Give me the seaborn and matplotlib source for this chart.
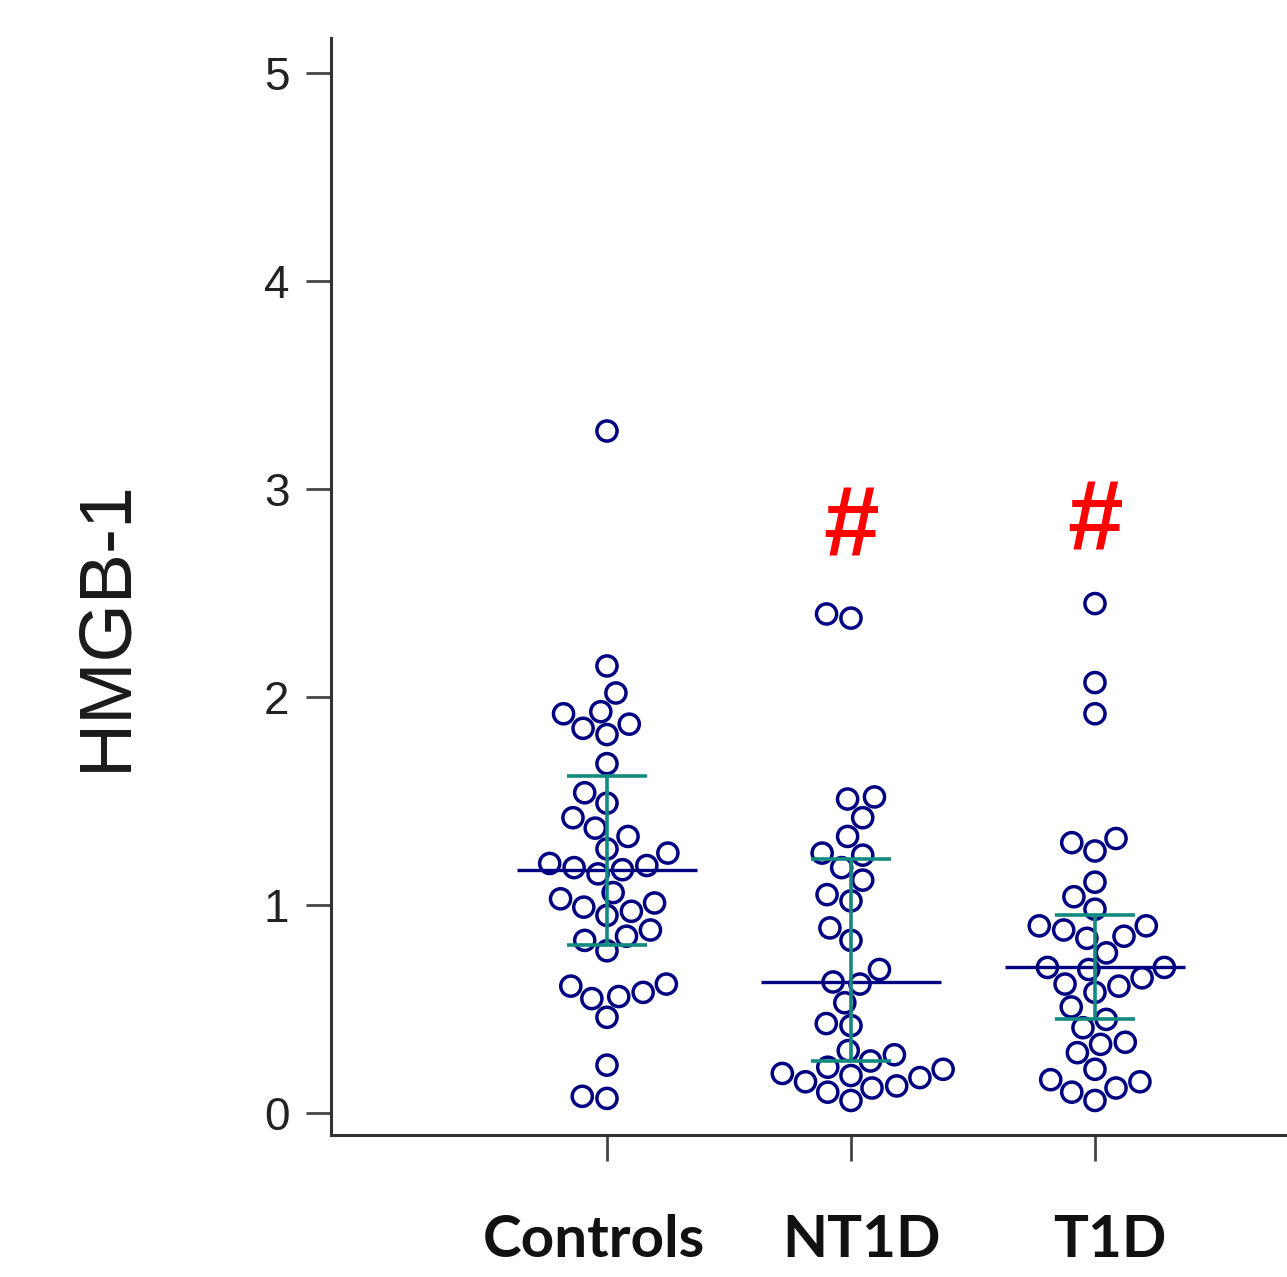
import numpy as np
import pandas as pd
import matplotlib
matplotlib.use("Agg")
import matplotlib.pyplot as plt
import matplotlib.transforms as mtransforms
import seaborn as sns

groups = ["Controls", "NT1D", "T1D"]

controls = [3.28, 2.15, 2.02, 1.93, 1.92, 1.87, 1.85, 1.82, 1.68, 1.54,
            1.49, 1.42, 1.37, 1.33, 1.27, 1.25, 1.20, 1.19, 1.18, 1.17,
            1.15, 1.06, 1.03, 1.01, 0.99, 0.97, 0.95, 0.88, 0.85, 0.83,
            0.78, 0.62, 0.61, 0.58, 0.56, 0.55, 0.46, 0.23, 0.08, 0.07]
nt1d = [2.40, 2.38, 1.52, 1.51, 1.42, 1.33, 1.25, 1.24, 1.18, 1.12,
        1.05, 1.02, 0.89, 0.83, 0.69, 0.63, 0.62, 0.53, 0.43, 0.42,
        0.30, 0.28, 0.25, 0.22, 0.21, 0.19, 0.18, 0.17, 0.15, 0.13,
        0.12, 0.10, 0.06]
t1d = [2.45, 2.07, 1.92, 1.32, 1.30, 1.26, 1.11, 1.04, 0.98, 0.90,
       0.90, 0.88, 0.85, 0.84, 0.77, 0.70, 0.70, 0.69, 0.65, 0.62,
       0.61, 0.58, 0.51, 0.45, 0.41, 0.34, 0.33, 0.29, 0.21, 0.16,
       0.15, 0.12, 0.10, 0.06]

medians = [1.17, 0.63, 0.70]
q1 = [0.81, 0.25, 0.45]
q3 = [1.62, 1.22, 0.95]

sig_groups = ["NT1D", "T1D"]
sig_y = [2.80, 2.83]

df = pd.DataFrame({
    "group": ["Controls"] * len(controls) + ["NT1D"] * len(nt1d) + ["T1D"] * len(t1d),
    "value": controls + nt1d + t1d,
})

sns.set_style("ticks")
plt.rcParams["font.family"] = ["Liberation Sans", "DejaVu Sans"]

fig = plt.figure(figsize=(12.87, 12.77), dpi=100)
ax = fig.add_axes([0.2572, 0.1112, 0.7428, 0.8590])

navy = "#000080"
teal = "#118a80"

sns.swarmplot(data=df, x="group", y="value", order=groups, size=14.5,
              color=navy, ax=ax, zorder=2, warn_thresh=1)
for coll in ax.collections:
    coll.set_facecolor("none")
    coll.set_edgecolor(navy)
    coll.set_linewidth(2.5)

xs = np.arange(len(groups))
ax.hlines(medians, xs - 0.37, xs + 0.37, color=navy, lw=2.4, zorder=3)
ax.hlines(q1, xs - 0.165, xs + 0.165, color=teal, lw=2.6, zorder=4)
ax.hlines(q3, xs - 0.165, xs + 0.165, color=teal, lw=2.6, zorder=4)
ax.vlines(xs, q1, q3, color=teal, lw=2.6, zorder=4)

for g, y in zip(sig_groups, sig_y):
    ax.text(groups.index(g), y, "#", color="#ff0000", fontsize=72,
            fontweight="bold", ha="center", va="center")

ax.set_xlim(-1.131, 2.787)
ax.set_ylim(-0.106, 5.17)
ax.set_yticks([0, 1, 2, 3, 4, 5])
ax.set_yticklabels(["0", "1", "2", "3", "4", "5"], fontsize=33, color="#222222")
ax.set_xticks(xs)
ax.set_xticklabels(groups, fontsize=42, fontweight="bold", family="Lato",
                   color="#111111")
ax.tick_params(axis="y", length=18, width=2, color="#444444", pad=12)
ax.tick_params(axis="x", length=19, width=2, color="#444444", pad=38)

# the group labels sit a little off their ticks in the original
for lab, dx in zip(ax.get_xticklabels(), [-0.13, 0.11, 0.15]):
    lab.set_transform(lab.get_transform() +
                      mtransforms.ScaledTranslation(dx, 0, fig.dpi_scale_trans))

ax.set_xlabel("")
ax.set_ylabel("HMGB-1", fontsize=54, color="#1a1a1a")
ax.yaxis.set_label_coords(-0.199, 0.465)

sns.despine(ax=ax)
for side in ["left", "bottom"]:
    ax.spines[side].set_linewidth(2.2)
    ax.spines[side].set_color("#333333")

fig.savefig("out.png", dpi=100)
